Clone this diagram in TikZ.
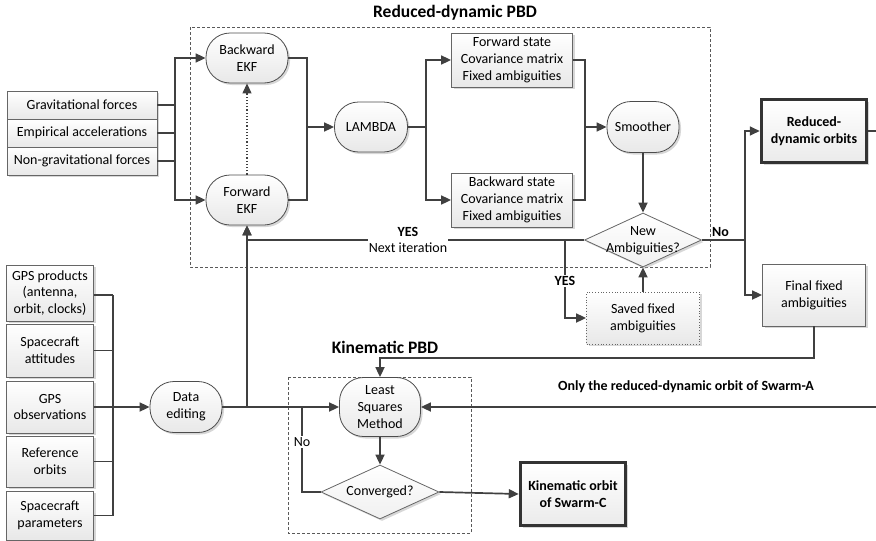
\documentclass[tikz,border=0pt]{standalone}
\usepackage{fontspec}
\setmainfont{Carlito}
\usetikzlibrary{arrows.meta,shapes.geometric,shadows,calc}
\begin{document}
\begin{tikzpicture}[x=1pt,y=-1pt,
  font=\fontsize{14}{16.8}\selectfont,
  shad/.style={drop shadow={fill=black!35, shadow xshift=2pt, shadow yshift=-2pt, opacity=0.45}},
  base/.style={shad, draw=black!60, line width=0.8pt, top color=white, bottom color=black!9, align=center, inner sep=1pt},
  rbox/.style={base, rectangle},
  term/.style={base, rectangle, rounded corners=24pt, draw=black!70},
  outbox/.style={shad, rectangle, draw=black!80, line width=3.5pt, top color=white, bottom color=black!8, align=center, font=\fontsize{14}{16.8}\selectfont\bfseries},
  dec/.style={base, diamond, inner sep=0pt, top color=white, bottom color=black!6},
  conn/.style={draw=black!75, line width=1.7pt},
  arr/.style={conn, -{Triangle[length=10pt,width=9pt]}},
  dotarr/.style={draw=black!75, line width=1.2pt, dotted, -{Triangle[length=10pt,width=9pt]}},
  frame/.style={draw=black!65, line width=0.7pt, dash pattern=on 3pt off 2pt},
  ttl/.style={font=\fontsize{17.5}{20}\selectfont\bfseries},
  lbl/.style={fill=white, inner sep=1pt, align=center},
  blbl/.style={font=\fontsize{14}{16.8}\selectfont\bfseries, inner sep=1pt},
]
\useasboundingbox (0,0) rectangle (876,541);

% frames
\draw[frame] (190,27) rectangle (710,267);
\draw[frame] (288,377) rectangle (471,533);
\node[ttl] (ttlrd) at (455,13) {Reduced-dynamic PBD};
\node[ttl] (ttlkin) at (385,347) {Kinematic PBD};

% force inputs
\node[rbox, minimum width=150pt, minimum height=28pt] (grav) at (82,105) {Gravitational forces};
\node[rbox, minimum width=150pt, minimum height=28pt] (emp) at (82,133) {Empirical accelerations};
\node[rbox, minimum width=150pt, minimum height=28pt] (nongrav) at (82,161) {Non-gravitational forces};

% reduced-dynamic
\node[term, minimum width=82pt, minimum height=50pt] (bekf) at (247,58) {Backward\\EKF};
\node[term, minimum width=82pt, minimum height=50pt] (fekf) at (247,200) {Forward\\EKF};
\node[term, minimum width=73pt, minimum height=50pt] (lambda) at (371,127) {LAMBDA};
\node[rbox, minimum width=121pt, minimum height=54pt] (fstate) at (512,60) {Forward state\\Covariance matrix\\Fixed ambiguities};
\node[rbox, minimum width=121pt, minimum height=54pt] (bstate) at (512,200) {Backward state\\Covariance matrix\\Fixed ambiguities};
\node[term, minimum width=72pt, minimum height=51pt] (smoother) at (643,127) {Smoother};
\node[dec, minimum width=117pt, minimum height=54pt] (newamb) at (643,240) {};
\node[align=center, inner sep=0pt] (newambt) at (643,241) {New\\Ambiguities?};
\node[rbox, dotted, minimum width=113pt, minimum height=52pt] (saved) at (643,318) {Saved fixed\\ambiguities};
\node[outbox, minimum width=105pt, minimum height=63pt] (rdorb) at (814,131) {Reduced-\\dynamic orbits};
\node[rbox, minimum width=103pt, minimum height=62pt] (final) at (814,295) {Final fixed\\ambiguities};

% data inputs
\node[rbox, minimum width=87pt, minimum height=56pt] (gpsprod) at (50,293) {GPS products\\(antenna,\\orbit, clocks)};
\node[rbox, minimum width=87pt, minimum height=53pt] (att) at (50,350.5) {Spacecraft\\attitudes};
\node[rbox, minimum width=87pt, minimum height=52pt] (obs) at (50,407) {GPS\\observations};
\node[rbox, minimum width=87pt, minimum height=51pt] (refo) at (50,461.5) {Reference\\orbits};
\node[rbox, minimum width=87pt, minimum height=49pt] (params) at (50,515.5) {Spacecraft\\parameters};
\node[term, minimum width=72pt, minimum height=51pt] (dataedit) at (186,407) {Data\\editing};

% kinematic
\node[term, minimum width=81pt, minimum height=59pt] (lsm) at (380,407) {Least\\Squares\\Method};
\node[dec, minimum width=118pt, minimum height=54pt] (conv) at (380,492) {};
\node[inner sep=0pt] (convt) at (380,492) {Converged?};
\node[outbox, minimum width=105pt, minimum height=63pt] (kinorb) at (573,494) {Kinematic orbit\\of Swarm-C};

% junction coordinates
\coordinate (b1) at (175,105);
\coordinate (b2) at (175,161);
\coordinate (j1) at (307,127);
\coordinate (j2) at (426,127);
\coordinate (j3) at (585,127);
\coordinate (j4) at (565,240);
\coordinate (j5) at (745,240);
\coordinate (j6) at (380,358);
\coordinate (j7) at (247,407);
\coordinate (j8) at (302,407);
\coordinate (bus2a) at (113,295);
\coordinate (bus2b) at (113,515.5);
\coordinate (bus2c) at (113,407);
\coordinate (edge1) at (876,131);
\coordinate (edge2) at (876,407);

% connectors: forces
\draw[arr] (grav.east) -- (b1) |- (bekf.west);
\draw[arr] (nongrav.east) -- (b2) |- (fekf.west);
\draw[conn] (emp.east) -- (emp.east -| b1);
\draw[conn] (b1) -- (b2);
\draw[dotarr] (fekf.north) -- (bekf.south);
\draw[conn] (bekf.east) -| (j1) |- (fekf.east);
\draw[arr] (j1) -- (lambda.west);
\draw[arr] (lambda.east) -- (j2) |- (fstate.west);
\draw[arr] (j2) |- (bstate.west);
\draw[conn] (fstate.east) -| (j3) |- (bstate.east);
\draw[arr] (j3) -- (smoother.west);
\draw[arr] (smoother.south) -- (newamb.north);
\draw[arr] (newamb.west) -| (fekf.south);
\draw[arr] (j4) |- (saved.west);
\draw[arr] (saved.north) -- (newamb.south);
\draw[arr] (newamb.east) -- (j5) |- (rdorb.west);
\draw[arr] (j5) |- (final.west);
\draw[conn] (rdorb.east) -- (edge1);
\draw[arr] (final.south) |- (j6) -- (lsm.north);
\draw[arr] (edge2) -- (lsm.east);

% data inputs
\draw[conn] (gpsprod.east |- bus2a) -- (bus2a);
\draw[conn] (att.east) -- (att.east -| bus2a);
\draw[conn] (obs.east) -- (bus2c);
\draw[conn] (refo.east) -- (refo.east -| bus2a);
\draw[conn] (params.east) -- (bus2b);
\draw[conn] (bus2a) -- (bus2b);
\draw[arr] (bus2c) -- (dataedit.west);
\draw[arr] (dataedit.east) -- (lsm.west);
\draw[arr] (j7) -- (fekf.south);
\draw[arr] (lsm.south) -- (conv.north);
\draw[arr] (conv.east) -- (kinorb.west);
\draw[conn] (conv.west) -| (j8);

% labels
\node[lbl] (yesnext) at (408,240) {\textbf{YES}\\Next iteration};
\node[lbl, font=\fontsize{14}{16.8}\selectfont\bfseries] (yes2) at (565,281) {YES};
\node[blbl, anchor=west] (no1) at (711,232) {No};
\node[lbl] (no2) at (302,442) {No};
\node[blbl] (only) at (686,387) {Only the reduced-dynamic orbit of Swarm-A};
\end{tikzpicture}
\end{document}
